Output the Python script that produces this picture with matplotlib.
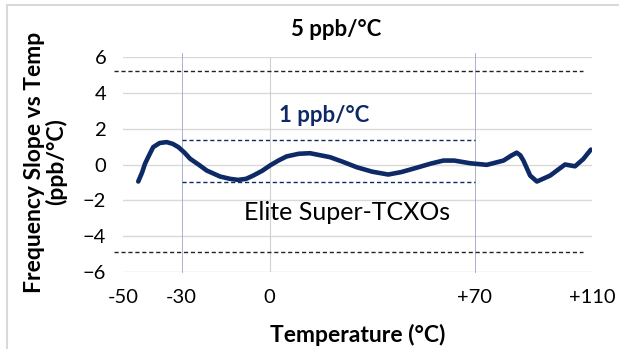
import numpy as np
import matplotlib.pyplot as plt
from matplotlib.patches import Rectangle

plt.rcParams['font.family'] = ['Lato', 'DejaVu Sans']

# curve (temperature in degC, slope in ppb/degC)
temp = [-44.8, -43.5, -42.5, -41.0, -39.7, -37.5, -35.1, -33.0, -31.1, -29.0,
        -27.1, -24.0, -21.4, -16.9, -13.5, -10.7, -8.0, -5.6, -2.5, 0.1,
        3.0, 5.8, 10.0, 13.8, 20.6, 25.0, 29.7, 35.0, 40.5, 45.0,
        50.2, 55.0, 59.3, 63.0, 68.4, 74.1, 79.8, 82.5, 84.3, 85.5,
        86.6, 88.9, 91.2, 95.7, 100.8, 104.2, 107.0, 109.6]
slope = [-0.95, -0.45, 0.04, 0.55, 0.97, 1.20, 1.25, 1.15, 0.97, 0.66,
         0.32, -0.03, -0.34, -0.67, -0.80, -0.86, -0.80, -0.62, -0.35, -0.06,
         0.22, 0.45, 0.60, 0.63, 0.41, 0.15, -0.15, -0.40, -0.56, -0.42,
         -0.18, 0.05, 0.22, 0.22, 0.07, -0.02, 0.22, 0.50, 0.66, 0.52,
         0.22, -0.62, -0.95, -0.62, 0.0, -0.1, 0.30, 0.83]

xticks = [-50, -30, 0, 70, 110]
xtick_labels = ['-50', '-30', '0', '+70', '+110']
yticks = [-6, -4, -2, 0, 2, 4, 6]

spec_wide = [-4.9, 5.2]    # 5 ppb/degC band
spec_narrow = [-0.95, 1.35]  # 1 ppb/degC band
spec_range = [-30, 70]

navy = '#0e2a66'

fig = plt.figure(figsize=(6.19, 3.49), dpi=100)
ax = fig.add_axes([0.1987, 0.2206, 0.7577, 0.6161])

for y in yticks:
    ax.axhline(y, color='#d9d9d9', lw=1.0, zorder=0)
ax.plot([-30, -30], [-6, 6.2], color='#9aa6c6', lw=0.6, clip_on=False, zorder=1)
ax.plot([70, 70], [-6, 6.2], color='#9aa6c6', lw=0.6, clip_on=False, zorder=1)
ax.plot([0, 0], [-6, 6], color='#d0d0d0', lw=0.8, zorder=1)

for y in spec_wide:
    ax.plot([-53, 107], [y, y], color='#222222', lw=1.0, ls=(0, (3, 2)),
            clip_on=False, zorder=2)
for y in spec_narrow:
    ax.plot(spec_range, [y, y], color=navy, lw=1.0, ls=(0, (3, 2)), zorder=2)

ax.plot(temp, slope, color=navy, lw=3.3, solid_joinstyle='round',
        solid_capstyle='round', zorder=3)

ax.text(18.6, 2.75, '1 ppb/°C', color=navy, fontsize=16, fontweight='bold',
        ha='center', va='center')
ax.text(26.3, -2.67, 'Elite Super-TCXOs', color='black', fontsize=18,
        ha='center', va='center')
fig.text(336.5 / 619, 1 - 30 / 349, '5 ppb/°C', fontsize=16, fontweight='bold',
         ha='center', va='center')

ax.set_xlim(-50, 110)
ax.set_ylim(-6, 6)
ax.set_xticks(xticks)
ax.set_xticklabels(xtick_labels)
ax.set_yticks(yticks)
ax.tick_params(length=0, labelsize=14.5, pad=12)
for s in ax.spines.values():
    s.set_visible(False)

fig.text(45.5 / 619, 1 - 162 / 349, 'Frequency Slope vs Temp\n(ppb/°C)',
         fontsize=16.5, fontweight='bold', rotation=90, linespacing=1.05,
         ha='center', va='center', multialignment='center')
fig.text(358 / 619, 1 - 335 / 349, 'Temperature (°C)', fontsize=16.5,
         fontweight='bold', ha='center', va='center')

fig.patches.append(Rectangle((7 / 619, -0.1), 1.2, 1 - 5 / 349 + 0.1,
                             transform=fig.transFigure, fill=False,
                             edgecolor='#d9d9d9', lw=1.5))

plt.savefig('out.png', dpi=100)
